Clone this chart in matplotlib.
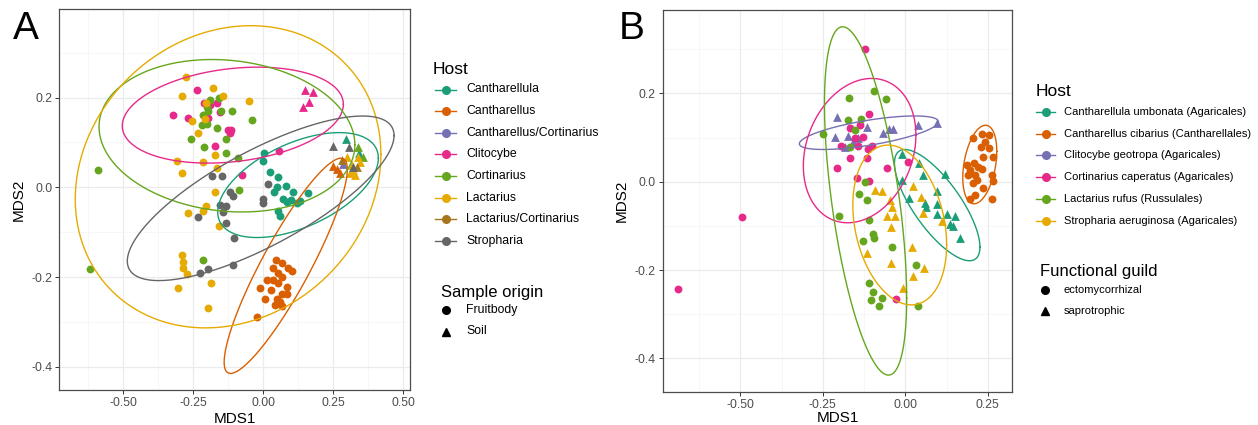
import numpy as np
import matplotlib
matplotlib.use("Agg")
import matplotlib.pyplot as plt
from matplotlib.lines import Line2D

plt.rcParams['font.family'] = ['Liberation Sans', 'DejaVu Sans']
plt.rcParams['axes.unicode_minus'] = False

W, H = 1258, 425
DARK2 = ["#1B9E77", "#D95F02", "#7570B3", "#E7298A",
         "#66A61E", "#E6AB02", "#A6761D", "#666666"]

# ---------------- panel A data (MDS1, MDS2) ----------------
hosts_a = ["Cantharellula", "Cantharellus", "Cantharellus/Cortinarius", "Clitocybe",
           "Cortinarius", "Lactarius", "Lactarius/Cortinarius", "Stropharia"]

a_cantharellula_fruit = [(0.004, 0.077), (-0.002, 0.059), (0.024, 0.035), (0.054, 0.024),
                         (0.048, 0.000), (0.080, 0.003), (0.038, -0.010), (0.071, -0.025),
                         (0.107, -0.010), (0.084, -0.032), (0.119, -0.036), (0.158, -0.013),
                         (0.051, -0.052), (0.058, -0.064), (0.100, -0.028), (0.130, -0.030)]
a_cantharellula_soil = [(0.295, 0.108), (0.343, 0.077)]

a_cantharellus_fruit = [(0.045, -0.162), (0.066, -0.168), (0.089, -0.181), (0.036, -0.179),
                        (0.054, -0.192), (0.101, -0.186), (0.012, -0.207), (0.033, -0.207),
                        (0.054, -0.214), (0.083, -0.222), (0.066, -0.237), (0.084, -0.237),
                        (0.006, -0.248), (0.048, -0.248), (0.060, -0.255), (0.042, -0.263),
                        (0.066, -0.265), (-0.021, -0.289), (-0.012, -0.225), (0.066, -0.200),
                        (0.028, -0.228)]
a_cantharellus_soil = [(0.250, 0.048), (0.274, 0.031), (0.262, 0.040)]

a_canth_cort_soil = [(0.283, 0.052)]

a_clitocybe_fruit = [(-0.238, 0.217), (-0.321, 0.161), (-0.270, 0.155), (-0.212, 0.187),
                     (-0.190, 0.184), (-0.164, 0.188), (-0.155, 0.169), (-0.196, 0.154),
                     (-0.125, 0.127), (-0.115, 0.127), (-0.120, 0.122), (-0.174, 0.093),
                     (0.057, 0.081), (-0.075, 0.027)]
a_clitocybe_soil = [(0.149, 0.217), (0.176, 0.213), (0.164, 0.191), (0.141, 0.180)]

a_cortinarius_fruit = [(-0.190, 0.195), (-0.158, 0.199), (-0.202, 0.180), (-0.196, 0.170),
                       (-0.214, 0.161), (-0.151, 0.170), (-0.111, 0.170), (-0.041, 0.150),
                       (-0.220, 0.139), (-0.202, 0.141), (-0.166, 0.132), (-0.258, 0.108),
                       (-0.134, 0.108), (-0.212, 0.091), (-0.134, 0.076), (-0.091, 0.065),
                       (-0.086, -0.006), (-0.214, -0.162), (-0.591, 0.039), (-0.621, -0.183)]
a_cortinarius_soil = [(0.339, 0.089), (0.355, 0.068)]

a_lactarius_fruit = [(-0.277, 0.245), (-0.181, 0.222), (-0.290, 0.203), (-0.143, 0.204),
                     (-0.050, 0.193), (-0.206, 0.188), (-0.256, 0.147), (-0.208, 0.152),
                     (-0.232, 0.121), (-0.173, 0.071), (-0.307, 0.059), (-0.214, 0.057),
                     (-0.291, 0.031), (-0.166, 0.042), (-0.171, -0.010), (-0.206, -0.041),
                     (-0.268, -0.058), (-0.217, -0.052), (-0.159, -0.086), (-0.291, -0.151),
                     (-0.286, -0.166), (-0.286, -0.179), (-0.274, -0.194), (-0.304, -0.225),
                     (-0.187, -0.214), (-0.199, -0.269)]
a_lactarius_soil = [(0.298, 0.068), (0.339, 0.068), (0.321, 0.039), (0.310, 0.031),
                    (0.345, 0.057), (0.327, 0.027), (0.315, 0.050)]

a_lact_cort_soil = [(0.333, 0.046), (0.280, 0.061)]

a_stropharia_fruit = [(-0.184, 0.025), (-0.149, 0.025), (-0.119, -0.010), (-0.109, -0.019),
                      (0.018, 0.008), (-0.002, -0.026), (0.000, -0.036), (-0.155, -0.040),
                      (-0.134, -0.042), (-0.145, -0.056), (-0.232, -0.067), (-0.134, -0.079),
                      (-0.104, -0.112), (-0.226, -0.191), (-0.199, -0.183), (-0.109, -0.173)]
a_stropharia_soil = [(0.248, 0.092), (0.307, 0.089), (0.321, 0.046)]

a_fruit = [a_cantharellula_fruit, a_cantharellus_fruit, [], a_clitocybe_fruit,
           a_cortinarius_fruit, a_lactarius_fruit, [], a_stropharia_fruit]
a_soil = [a_cantharellula_soil, a_cantharellus_soil, a_canth_cort_soil, a_clitocybe_soil,
          a_cortinarius_soil, a_lactarius_soil, a_lact_cort_soil, a_stropharia_soil]

# ellipses: centre x, centre y, half width, half height,
# y offset of the rightmost point (tilt)
a_ell_host = [0, 1, 3, 4, 5, 7]
a_ell_cx = [0.124, 0.080, -0.109, -0.130, -0.126, -0.0095]
a_ell_cy = [0.005, -0.175, 0.161, 0.115, 0.0235, -0.0245]
a_ell_wx = [0.287, 0.220, 0.395, 0.457, 0.546, 0.4765]
a_ell_wy = [0.117, 0.240, 0.107, 0.170, 0.337, 0.1835]
a_ell_tilt = [0.060, 0.215, 0.024, -0.020, 0.050, 0.140]

# ---------------- panel B data ----------------
hosts_b = ["Cantharellula umbonata (Agaricales)", "Cantharellus cibarius (Cantharellales)",
           "Clitocybe geotropa (Agaricales)", "Cortinarius caperatus (Agaricales)",
           "Lactarius rufus (Russulales)", "Stropharia aeruginosa (Agaricales)"]

b_cantharellula = [(-0.011, 0.063), (0.042, 0.043), (0.055, 0.015), (0.120, 0.017),
                   (-0.011, 0.005), (0.095, -0.021), (0.012, -0.036), (0.060, -0.048),
                   (0.063, -0.057), (0.095, -0.050), (0.097, -0.073), (0.125, -0.073),
                   (0.151, -0.077), (0.135, -0.096), (0.145, -0.100), (0.166, -0.127)]
b_cantharellus = [(0.204, 0.100), (0.231, 0.108), (0.252, 0.106), (0.242, 0.091),
                  (0.228, 0.079), (0.252, 0.076), (0.265, 0.057), (0.235, 0.057),
                  (0.186, 0.038), (0.208, 0.042), (0.221, 0.033), (0.196, 0.026),
                  (0.231, 0.028), (0.211, 0.015), (0.191, 0.015), (0.262, 0.015),
                  (0.216, 0.004), (0.265, 0.002), (0.206, -0.004), (0.236, -0.015),
                  (0.211, -0.030), (0.196, -0.040), (0.262, -0.040)]
b_clitocybe = [(-0.208, 0.147), (-0.213, 0.101), (-0.173, 0.104), (-0.183, 0.079),
               (-0.142, 0.098), (-0.115, 0.125), (-0.067, 0.110), (-0.048, 0.119),
               (-0.038, 0.119), (0.037, 0.128), (0.095, 0.134), (-0.160, 0.090)]
b_cortinarius = [(-0.122, 0.300), (-0.496, -0.081), (-0.688, -0.243), (-0.110, 0.153),
                 (-0.137, 0.128), (-0.168, 0.121), (-0.152, 0.098), (-0.127, 0.102),
                 (-0.196, 0.082), (-0.142, 0.082), (-0.102, 0.081), (-0.112, 0.074),
                 (-0.168, 0.054), (-0.117, 0.054), (-0.208, 0.032), (-0.056, 0.032),
                 (0.009, 0.045), (-0.147, 0.008), (-0.109, 0.002), (-0.029, -0.266)]
b_lactarius = [(-0.171, 0.189), (-0.094, 0.206), (-0.059, 0.187), (-0.173, 0.140),
               (-0.134, 0.143), (-0.152, 0.117), (-0.248, 0.107), (-0.168, 0.079),
               (-0.122, -0.001), (-0.139, -0.028), (-0.117, -0.041), (-0.200, -0.078),
               (-0.110, -0.087), (-0.099, -0.118), (-0.095, -0.127), (-0.129, -0.134),
               (-0.041, -0.147), (0.032, -0.189), (-0.110, -0.230), (-0.097, -0.249),
               (-0.105, -0.269), (-0.072, -0.264), (-0.079, -0.281), (0.039, -0.281)]
b_stropharia = [(-0.092, -0.019), (-0.072, -0.021), (-0.046, -0.041), (-0.041, -0.057),
                (-0.055, -0.078), (-0.031, -0.078), (0.024, -0.010), (0.047, -0.034),
                (0.053, -0.070), (0.110, -0.089), (-0.044, -0.103), (-0.117, -0.161),
                (0.021, -0.147), (-0.044, -0.185), (0.057, -0.196), (0.024, -0.213),
                (-0.006, -0.241)]

b_groups = [b_cantharellula, b_cantharellus, b_clitocybe, b_cortinarius, b_lactarius, b_stropharia]
b_guild = ["saprotrophic", "ectomycorrhizal", "saprotrophic",
           "ectomycorrhizal", "ectomycorrhizal", "saprotrophic"]

b_ell_cx = [0.0965, 0.2255, -0.1105, -0.1385, -0.1205, -0.017]
b_ell_cy = [-0.053, 0.039, 0.111, 0.0705, -0.0435, -0.098]
b_ell_wx = [0.1295, 0.0515, 0.2105, 0.1705, 0.1245, 0.142]
b_ell_wy = [0.126, 0.089, 0.038, 0.1635, 0.3945, 0.181]
b_ell_tilt = [-0.095, 0.030, 0.025, 0.035, -0.220, -0.045]


def ellipse_xy(cx, cy, wx, wy, tilt):
    t = np.linspace(0, 2 * np.pi, 300)
    x = cx + wx * np.cos(t)
    y = cy + tilt * np.cos(t) + np.sqrt(wy ** 2 - tilt ** 2) * np.sin(t)
    return x, y


def style_axes(ax, xlim, ylim, xmaj, xmin, ymaj, ymin, xpad):
    ax.set_xlim(*xlim)
    ax.set_ylim(*ylim)
    ax.set_xticks(xmaj)
    ax.set_xticklabels([f"{v:.2f}" for v in xmaj])
    ax.set_xticks(xmin, minor=True)
    ax.set_yticks(ymaj)
    ax.set_yticklabels([f"{v:.1f}" for v in ymaj])
    ax.set_yticks(ymin, minor=True)
    ax.grid(which="major", color="#EBEBEB", lw=0.9)
    ax.grid(which="minor", color="#F4F4F4", lw=0.5)
    ax.set_axisbelow(True)
    for s in ax.spines.values():
        s.set_color("#4D4D4D")
        s.set_linewidth(0.9)
    ax.tick_params(which="major", length=3, width=0.7, color="#333333",
                   labelsize=8.8, labelcolor="#4D4D4D", pad=2)
    ax.tick_params(which="minor", length=0)
    ax.set_xlabel("MDS1", fontsize=11, labelpad=xpad)
    ax.set_ylabel("MDS2", fontsize=11, labelpad=4)


fig = plt.figure(figsize=(W / 100, H / 100), dpi=100)
ax_a = fig.add_axes([59.3 / W, 1 - 390 / H, (410 - 59.3) / W, (390 - 9.3) / H])
ax_b = fig.add_axes([662.7 / W, 1 - 392.3 / H, (1012.3 - 662.7) / W, (392.3 - 10) / H])

# panel A
for i in range(len(hosts_a)):
    if a_fruit[i]:
        xs, ys = zip(*a_fruit[i])
        ax_a.scatter(xs, ys, s=32, marker="o", color=DARK2[i], lw=0, zorder=3)
for i in range(len(hosts_a)):
    xs, ys = zip(*a_soil[i])
    ax_a.scatter(xs, ys, s=40, marker="^", color=DARK2[i], lw=0, zorder=3)
for k, h in enumerate(a_ell_host):
    ex, ey = ellipse_xy(a_ell_cx[k], a_ell_cy[k], a_ell_wx[k], a_ell_wy[k], a_ell_tilt[k])
    ax_a.plot(ex, ey, color=DARK2[h], lw=1.0, zorder=4)
style_axes(ax_a, (-0.729, 0.524), (-0.452, 0.397),
           [-0.5, -0.25, 0, 0.25, 0.5], [-0.625, -0.375, -0.125, 0.125, 0.375],
           [-0.4, -0.2, 0.0, 0.2], [-0.3, -0.1, 0.1, 0.3], 2)

# panel B
for i in range(len(hosts_b)):
    xs, ys = zip(*b_groups[i])
    mk = "o" if b_guild[i] == "ectomycorrhizal" else "^"
    ax_b.scatter(xs, ys, s=32 if mk == "o" else 40, marker=mk, color=DARK2[i], lw=0, zorder=3)
for i in range(len(hosts_b)):
    ex, ey = ellipse_xy(b_ell_cx[i], b_ell_cy[i], b_ell_wx[i], b_ell_wy[i], b_ell_tilt[i])
    ax_b.plot(ex, ey, color=DARK2[i], lw=1.0, zorder=4)
style_axes(ax_b, (-0.735, 0.324), (-0.477, 0.389),
           [-0.5, -0.25, 0, 0.25], [-0.625, -0.375, -0.125, 0.125],
           [-0.4, -0.2, 0.0, 0.2], [-0.3, -0.1, 0.1, 0.3], 0)

fig.text(13 / W, 1 - 29 / H, "A", fontsize=28, va="center", ha="left")
fig.text(619 / W, 1 - 29 / H, "B", fontsize=28, va="center", ha="left")


def fx(px):
    return px / W


def fy(py):
    return 1 - py / H


def legend_block(title, tx, ty, labels, colors, markers, kx0, kx1, lx, y0, dy,
                 tsize, lsize, with_line):
    fig.text(fx(tx), fy(ty), title, fontsize=tsize, va="center", ha="left")
    for j, lab in enumerate(labels):
        yy = y0 + j * dy
        if with_line:
            fig.add_artist(Line2D([fx(kx0), fx(kx1)], [fy(yy), fy(yy)],
                                  color=colors[j], lw=1.0, transform=fig.transFigure))
        fig.add_artist(Line2D([fx((kx0 + kx1) / 2)], [fy(yy)], marker=markers[j],
                              markersize=5.5, color=colors[j], lw=0,
                              transform=fig.transFigure))
        fig.text(fx(lx), fy(yy), lab, fontsize=lsize, va="center", ha="left")


legend_block("Host", 433, 70, hosts_a, DARK2, ["o"] * 8, 435, 456, 466, 89.5, 21.65,
             12.5, 8.8, True)
legend_block("Sample origin", 441, 292.7, ["Fruitbody", "Soil"], ["black", "black"],
             ["o", "^"], 437, 455, 466, 310, 21.5, 12, 8.8, False)
legend_block("Host", 1036, 91.7, hosts_b, DARK2[:6], ["o"] * 6, 1036, 1055, 1063.5, 111.7,
             21.8, 12.5, 8, True)
legend_block("Functional guild", 1040, 271.7, ["ectomycorrhizal", "saprotrophic"],
             ["black", "black"], ["o", "^"], 1036, 1054, 1063.5, 290, 20.7, 12, 8, False)

fig.savefig("out.png", dpi=100)
